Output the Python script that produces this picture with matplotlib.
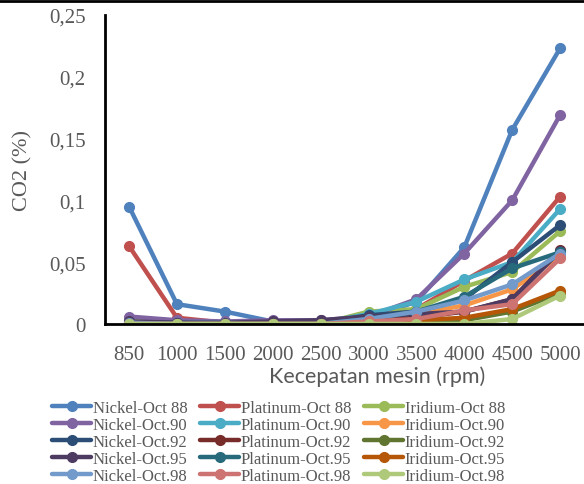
import matplotlib.pyplot as plt
from matplotlib.lines import Line2D

OUT_PNG = 'out.png'

rpm = ['850', '1000', '1500', '2000', '2500', '3000', '3500', '4000', '4500', '5000']

nickel_88 = [0.095, 0.016, 0.010, 0.002, 0.002, 0.005, 0.018, 0.062, 0.157, 0.223]
platinum_88 = [0.063, 0.005, 0.001, 0.000, 0.000, 0.004, 0.012, 0.035, 0.057, 0.103]
iridium_88 = [0.003, 0.002, 0.001, 0.000, 0.000, 0.010, 0.012, 0.030, 0.042, 0.075]
nickel_90 = [0.006, 0.003, 0.002, 0.003, 0.003, 0.006, 0.020, 0.057, 0.100, 0.169]
platinum_90 = [0.001, 0.001, 0.001, 0.001, 0.001, 0.008, 0.018, 0.036, 0.050, 0.093]
iridium_90 = [0.000, 0.000, 0.000, 0.000, 0.000, 0.003, 0.008, 0.015, 0.028, 0.055]
nickel_92 = [0.001, 0.001, 0.000, 0.000, 0.001, 0.007, 0.010, 0.020, 0.050, 0.080]
platinum_92 = [0.000, 0.000, 0.000, 0.000, 0.000, 0.002, 0.005, 0.010, 0.020, 0.060]
iridium_92 = [0.000, 0.000, 0.000, 0.000, 0.000, 0.001, 0.002, 0.003, 0.010, 0.025]
nickel_95 = [0.002, 0.001, 0.001, 0.002, 0.003, 0.006, 0.008, 0.010, 0.020, 0.059]
platinum_95 = [0.000, 0.000, 0.000, 0.000, 0.000, 0.004, 0.010, 0.022, 0.045, 0.058]
iridium_95 = [0.000, 0.000, 0.000, 0.000, 0.000, 0.001, 0.003, 0.005, 0.012, 0.027]
nickel_98 = [0.001, 0.000, 0.000, 0.000, 0.000, 0.004, 0.010, 0.019, 0.032, 0.057]
platinum_98 = [0.000, 0.000, 0.000, 0.000, 0.000, 0.002, 0.004, 0.011, 0.016, 0.053]
iridium_98 = [0.000, 0.000, 0.000, 0.000, 0.000, 0.000, 0.000, 0.000, 0.004, 0.023]

# series in plotting order (later ones drawn on top)
series = [
    ('Nickel-Oct 88', nickel_88, '#4F81BD'),
    ('Platinum-Oct 88', platinum_88, '#C0504D'),
    ('Iridium-Oct 88', iridium_88, '#9BBB59'),
    ('Nickel-Oct.90', nickel_90, '#8064A2'),
    ('Platinum-Oct.90', platinum_90, '#4BACC6'),
    ('Iridium-Oct.90', iridium_90, '#F79646'),
    ('Nickel-Oct.92', nickel_92, '#2C4D75'),
    ('Platinum-Oct.92', platinum_92, '#772C2A'),
    ('Iridium-Oct.92', iridium_92, '#5F7530'),
    ('Nickel-Oct.95', nickel_95, '#4D3B62'),
    ('Platinum-Oct.95', platinum_95, '#276A7C'),
    ('Iridium-Oct.95', iridium_95, '#B65708'),
    ('Nickel-Oct.98', nickel_98, '#729ACA'),
    ('Platinum-Oct.98', platinum_98, '#CD7371'),
    ('Iridium-Oct.98', iridium_98, '#AFC97A'),
]

GREY = '#595959'
SERIF = 'Liberation Serif'


def plot_graph():
    fig = plt.figure(figsize=(5.84, 4.85), dpi=100)
    ax = fig.add_axes([0.18, 0.33, 0.82, 0.637])

    x = list(range(len(rpm)))
    handles = []
    for label, values, color in series:
        line, = ax.plot(x, values, color=color, linewidth=3.2, marker='o',
                        markersize=7, label=label, solid_capstyle='round')
        handles.append(line)

    ax.set_xlim(-0.5, len(rpm) - 0.5)
    ax.set_ylim(0, 0.25)
    ax.set_xticks(x)
    ax.set_xticklabels(rpm, fontfamily=SERIF, fontsize=15, color=GREY)
    yticks = [0, 0.05, 0.1, 0.15, 0.2, 0.25]
    ax.set_yticks(yticks)
    ax.set_yticklabels([('%g' % v).replace('.', ',') for v in yticks],
                       fontfamily=SERIF, fontsize=15, color=GREY)
    ax.tick_params(axis='x', length=0, pad=15)
    ax.tick_params(axis='y', length=0, pad=14)

    for side in ('top', 'right'):
        ax.spines[side].set_visible(False)
    for side in ('left', 'bottom'):
        ax.spines[side].set_linewidth(2)
        ax.spines[side].set_color('black')

    ax.set_xlabel('Kecepatan mesin (rpm)', fontfamily='Lato', fontsize=15.5,
                  color=GREY, labelpad=0)
    ax.xaxis.set_label_coords(0.568, -0.135)
    ax.set_ylabel('CO2 (%)', fontfamily=SERIF, fontsize=16, color=GREY,
                  labelpad=12)

    # legend reads across rows: Nickel / Platinum / Iridium columns
    ordered = handles[0::3] + handles[1::3] + handles[2::3]
    fig.legend(ordered, [h.get_label() for h in ordered], ncol=3,
               loc='upper center', bbox_to_anchor=(0.477, 0.19),
               frameon=False, prop={'family': SERIF, 'size': 12},
               labelcolor=GREY, handlelength=2.35, handletextpad=0.1,
               columnspacing=0.75, labelspacing=0.05, borderpad=0)

    fig.add_artist(Line2D([0, 1], [0.996, 0.996], color='black', linewidth=2))

    fig.savefig(OUT_PNG, dpi=100)


if __name__ == '__main__':
    plot_graph()
